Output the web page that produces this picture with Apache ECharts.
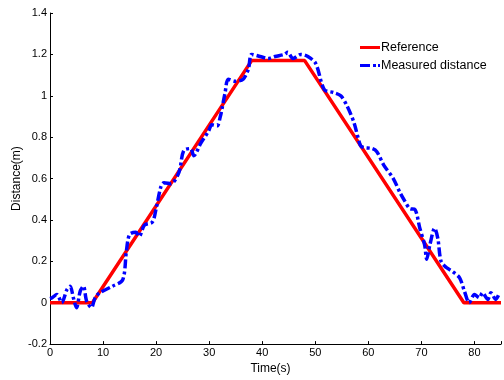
<!DOCTYPE html>
<html>
<head>
<meta charset="utf-8">
<script src="https://cdn.jsdelivr.net/npm/echarts@6/dist/echarts.min.js"></script>
<style>html,body{margin:0;padding:0;background:#fff}#c{width:504px;height:380px}</style>
</head>
<body>
<div id="c"></div>
<script>
const refT = [0, 8, 38, 48, 78, 85];
const refD = [0, 0, 1.17, 1.17, 0, 0];
const measT = [0,0.4,1.3,2.2,3.2,3.8,4.4,5.0,5.7,6.3,6.9,7.8,8.5,9.4,11.8,13.7,14.4,15.0,16.2,16.8,17.8,19.3,20.0,20.9,21.5,22.8,24.3,25.2,26.5,27.1,28.4,29.9,30.5,31.5,32.1,32.4,33.0,33.6,34.9,36.4,37.4,38.0,39.6,41.1,42.4,44.2,44.8,45.8,47.3,48.6,50.1,51.7,53.5,54.8,56.0,57.3,58.5,59.1,60.7,61.6,62.9,64.7,66.0,66.9,67.8,68.8,69.7,70.6,71.0,71.6,72.5,73.1,73.7,74.7,75.9,77.2,78.1,79.0,80.0,80.9,81.5,82.5,83.1,84.0,84.6];
const measD = [0.02,0.024,0.04,0.0,0.064,0.08,0.024,-0.024,0.056,0.08,0.008,-0.024,0.024,0.048,0.08,0.11,0.25,0.33,0.34,0.32,0.375,0.39,0.455,0.56,0.58,0.575,0.63,0.735,0.745,0.71,0.77,0.83,0.86,0.855,0.9,0.935,1.015,1.08,1.07,1.08,1.13,1.2,1.19,1.18,1.19,1.2,1.21,1.18,1.2,1.19,1.155,1.03,1.015,1.0,0.95,0.87,0.76,0.75,0.745,0.73,0.665,0.6,0.53,0.49,0.455,0.45,0.36,0.28,0.21,0.28,0.36,0.31,0.2,0.17,0.15,0.12,0.056,0.0,0.04,0.024,0.048,0.016,0.048,0.016,0.04];
const xTicks = {min: 0, max: 85, interval: 10};
const yTicks = {min: -0.2, max: 1.4, interval: 0.2};

const font = 'Liberation Sans, Arial, Helvetica, sans-serif';
const chart = echarts.init(document.getElementById('c'), null, {renderer: 'canvas'});
chart.setOption({
  animation: false,
  backgroundColor: '#fff',
  textStyle: {fontFamily: font},
  grid: {left: 50, top: 13, width: 456, height: 334, containLabel: false},
  legend: {
    orient: 'vertical', left: 355, top: 36, itemWidth: 20, itemHeight: 12, itemGap: 5,
    textStyle: {fontFamily: font, fontSize: 12.5, color: '#000', padding: [0,0,0,-4]},
    data: [
      {name: 'Reference', icon: 'path://M0,0H20V3H0Z'},
      {name: 'Measured distance', icon: 'path://M0,0H10V3H0Z M13,0H16V3H13Z M18,0H20V3H18Z'}
    ]
  },
  xAxis: {
    type: 'value', min: xTicks.min, max: xTicks.max, interval: xTicks.interval,
    name: 'Time(s)', nameLocation: 'middle', nameGap: 15,
    nameTextStyle: {fontFamily: font, fontSize: 12, color: '#000', padding: [0,0,0,-10]},
    axisLine: {show: true, onZero: false, lineStyle: {color: '#000', width: 1}},
    axisTick: {show: true, inside: true, length: 3, lineStyle: {color: '#000'}},
    axisLabel: {fontFamily: font, fontSize: 11, color: '#000', margin: 3,
      formatter: v => (v > 80 ? '' : String(v))},
    splitLine: {show: false}
  },
  yAxis: {
    type: 'value', min: yTicks.min, max: yTicks.max, interval: yTicks.interval,
    name: 'Distance(m)', nameLocation: 'middle', nameGap: 27, nameRotate: 90,
    nameMoveOverlap: false,
    nameTextStyle: {fontFamily: font, fontSize: 12, color: '#000'},
    axisLine: {show: true, onZero: false, lineStyle: {color: '#000', width: 1}},
    axisTick: {show: true, inside: true, length: 3, lineStyle: {color: '#000'}},
    axisLabel: {fontFamily: font, fontSize: 11, color: '#000', margin: 3,
      formatter: v => String(Math.round(v * 10) / 10)},
    splitLine: {show: false}
  },
  series: [
    {
      name: 'Reference', type: 'line', showSymbol: false, symbol: 'none',
      data: refT.map((t, i) => [t, refD[i]]),
      lineStyle: {color: '#ff0000', width: 3.5},
      itemStyle: {color: '#ff0000'}, z: 2
    },
    {
      name: 'Measured distance', type: 'line', showSymbol: false, symbol: 'none', smooth: 0.3,
      data: measT.map((t, i) => [t, measD[i]]),
      lineStyle: {color: '#0000ff', width: 3.5, type: [9, 3, 3, 3]},
      itemStyle: {color: '#0000ff'}, z: 3
    }
  ]
});
</script>
</body>
</html>
